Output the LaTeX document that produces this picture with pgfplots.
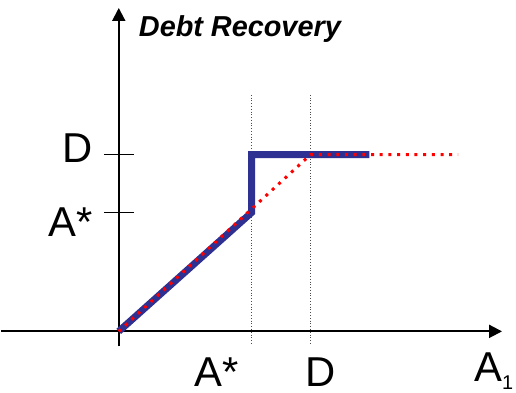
\documentclass[border=0pt]{standalone}
\usepackage{pgfplots}
\pgfplotsset{compat=1.18}
\usepackage{fontspec}
\setmainfont{Liberation Sans}
\usetikzlibrary{arrows.meta}
\definecolor{myblue}{RGB}{46,49,146}
\definecolor{myred}{RGB}{255,0,0}
\begin{document}
\begin{tikzpicture}
\begin{axis}[
  x=1bp, y=1bp,
  xmin=-118, xmax=384, ymin=-15, ymax=324,
  enlargelimits=false,
  axis lines=middle,
  ticks=none,
  clip=false,
  axis line style={line width=2bp},
  every inner x axis line/.append style={-{Triangle[length=13bp,width=13bp]}},
  every inner y axis line/.append style={-{Triangle[length=13bp,width=13bp]}},
]
\path (axis cs:-118,-61) rectangle (axis cs:398,332);
% dotted guides
\addplot[black!70, line width=0.8bp, dotted] coordinates {(133,237) (133,-13)};
\addplot[black!70, line width=0.8bp, dotted] coordinates {(192,237) (192,-13)};
% y ticks
\addplot[black, line width=1.5bp] coordinates {(-15,177) (15,177)};
\addplot[black, line width=1.5bp] coordinates {(-15,119) (15,119)};
% blue recovery
\addplot[myblue, line width=7bp, line join=miter] coordinates {(0,0) (133,119) (133,177) (251,177)};
% red dotted
\addplot[myred, line width=3bp, dash pattern=on 3bp off 5.7bp] coordinates {(0,0) (192,177) (340,177)};
% labels
\node[anchor=base west, inner sep=0, font=\fontsize{29}{31}\selectfont\bfseries\itshape] at (axis cs:20,295) {Debt Recovery};
\node[anchor=base east, inner sep=0, font=\fontsize{42}{44}\selectfont] at (axis cs:-26,169) {D};
\node[anchor=base east, inner sep=0, font=\fontsize{42}{44}\selectfont] at (axis cs:-26,95) {A*};
\node[anchor=base, inner sep=0, font=\fontsize{42}{44}\selectfont] at (axis cs:98,-55) {A*};
\node[anchor=base, inner sep=0, font=\fontsize{42}{44}\selectfont] at (axis cs:202,-55) {D};
\node[anchor=base west, inner sep=0, font=\fontsize{42}{44}\selectfont] at (axis cs:356,-50) {A\raisebox{-8bp}[0pt][0pt]{\fontsize{20}{22}\selectfont 1}};
\end{axis}
\end{tikzpicture}
\end{document}
